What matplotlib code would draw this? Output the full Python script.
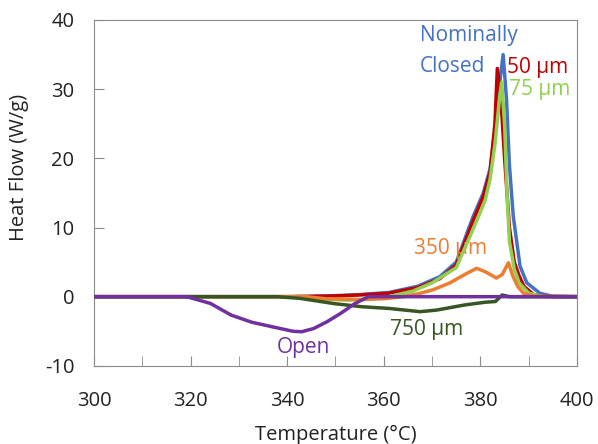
import matplotlib.pyplot as plt

plt.rcParams['font.family'] = ['Open Sans', 'DejaVu Sans']
plt.rcParams['axes.unicode_minus'] = False

# heat flow traces (W/g) vs temperature (°C)
closed_t = [300, 340, 345, 350, 355, 361, 367, 371.6, 375, 378.5, 380.6, 382, 383, 384, 384.7,
            385.4, 386, 386.8, 388.2, 389.6, 392.3, 395, 400]
closed_hf = [0, 0, 0.05, 0.15, 0.3, 0.6, 1.5, 2.9, 5.0, 11.6, 15.0, 18.5, 24, 31, 35,
             28.5, 19, 11.6, 4.4, 2.0, 0.5, 0.05, 0]

um50_t = [300, 340, 345, 350, 355, 361, 367, 371.6, 375, 378.5, 380.6, 382, 383, 383.5,
          384.2, 385, 386, 387, 388, 389, 391, 394, 400]
um50_hf = [0, 0, 0.05, 0.1, 0.25, 0.5, 1.3, 2.6, 4.6, 11.0, 14.5, 18, 25, 33,
           29, 20, 10, 5, 3, 1.5, 0.3, 0.05, 0]

um75_t = [300, 342, 346, 352, 357, 361, 366, 370, 375, 378, 379.9, 381, 382, 383, 384, 384.4,
          385, 385.5, 386, 387, 388, 390, 393, 400]
um75_hf = [0, 0, -0.3, -0.5, -0.4, 0, 0.8, 2.0, 4.2, 9.0, 12.1, 14, 17, 22, 29, 31,
           25, 15, 8, 4, 2, 0.5, 0.05, 0]

um350_t = [300, 344, 348, 355, 360, 364, 367, 370.2, 373.7, 377, 379.2, 381, 383.3, 384.5,
           385.8, 386.7, 387.7, 388.9, 391, 394, 400]
um350_hf = [0, 0, -0.3, -0.4, -0.3, 0, 0.4, 1.0, 2.0, 3.3, 4.1, 3.6, 2.7, 3.2,
            4.9, 3.0, 1.5, 0.5, 0.1, 0, 0]

um750_t = [300, 338, 342.6, 346, 349.7, 355.4, 361.1, 367.5, 371, 376.7, 381, 383.1, 384.5, 386, 400]
um750_hf = [0, 0, -0.24, -0.6, -1.0, -1.45, -1.7, -2.17, -1.93, -1.2, -0.8, -0.7, 0.24, 0, 0]

open_t = [300, 319.2, 324.1, 328.4, 332.7, 336.9, 341.2, 343, 345.5, 348.3, 351.1, 354, 356.8, 400]
open_hf = [0, 0, -0.97, -2.66, -3.7, -4.35, -5.0, -5.07, -4.6, -3.6, -2.4, -1.0, 0, 0]

fig = plt.figure(figsize=(5.98, 4.44), dpi=100)
ax = fig.add_axes([0.157, 0.176, 0.808, 0.779])

lw = 2.5
ax.plot(closed_t, closed_hf, color='#4472C4', lw=lw, zorder=2)
ax.plot(um50_t, um50_hf, color='#C00000', lw=lw, zorder=3)
ax.plot(um75_t, um75_hf, color='#92D050', lw=lw, zorder=4)
ax.plot(um350_t, um350_hf, color='#ED7D31', lw=lw, zorder=5)
ax.plot(um750_t, um750_hf, color='#375623', lw=lw, zorder=6)
ax.plot(open_t, open_hf, color='#7030A0', lw=lw, zorder=7)

fs = 15
ax.text(367.5, 37.7, 'Nominally', color='#4472C4', fontsize=fs, va='center')
ax.text(367.5, 33.3, 'Closed', color='#4472C4', fontsize=fs, va='center')
ax.text(385.5, 33.1, '50 µm', color='#C00000', fontsize=fs, va='center')
ax.text(386, 29.9, '75 µm', color='#92D050', fontsize=fs, va='center')
ax.text(373.8, 7.0, '350 µm', color='#ED7D31', fontsize=fs, va='center', ha='center')
ax.text(368.8, -4.7, '750 µm', color='#375623', fontsize=fs, va='center', ha='center')
ax.text(343.4, -7.3, 'Open', color='#7030A0', fontsize=fs, va='center', ha='center')

ax.set_xlim(300, 400)
ax.set_ylim(-10, 40)
ax.set_xticks(range(300, 401, 20))
ax.set_xticks(range(310, 400, 20), minor=True)
ax.set_yticks(range(-10, 41, 10))
for s in ax.spines.values():
    s.set_color('#8c8c8c')
ax.tick_params(axis='both', which='both', direction='in', length=7, color='#8c8c8c',
               labelsize=14.5, labelcolor='#222222')
ax.tick_params(axis='x', which='both', pad=18)
ax.tick_params(axis='y', pad=14)

ax.set_xlabel('Temperature (°C)', fontsize=14.5, color='#222222')
ax.set_ylabel('Heat Flow (W/g)', fontsize=14.5, color='#222222')
ax.xaxis.set_label_coords(0.5, -0.17)
ax.yaxis.set_label_coords(-0.135, 0.575)

fig.savefig('out.png', dpi=100)
